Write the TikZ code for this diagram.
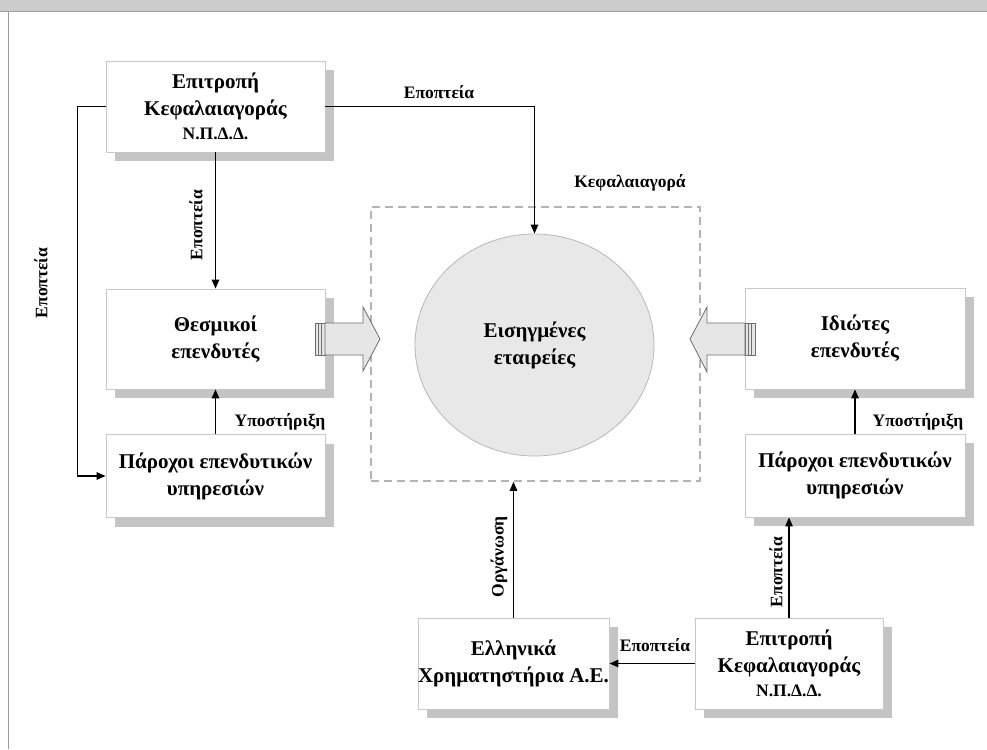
\documentclass[tikz,border=0pt]{standalone}
\usepackage{fontspec}
\setmainfont{Liberation Serif}
\usetikzlibrary{arrows.meta,shapes.geometric,shadows}
\definecolor{shadowgray}{HTML}{C4C4C4}
\definecolor{boxline}{HTML}{C8C8C8}
\definecolor{bargray}{HTML}{CCCCCC}
\definecolor{barline}{HTML}{9E9E9E}
\definecolor{ellfill}{HTML}{E8E8E8}
\definecolor{ellline}{HTML}{B8B8B8}
\definecolor{dashgray}{HTML}{B4B4B4}
\definecolor{arrfill}{HTML}{E6E6E6}
\definecolor{arrline}{HTML}{6E6E6E}
\tikzset{
  entity/.style={draw=boxline, line width=0.8pt, fill=white, align=center,
    font=\fontsize{21}{27}\selectfont\bfseries, inner sep=0pt,
    drop shadow={shadow xshift=9pt, shadow yshift=-9pt, fill=shadowgray, opacity=1}},
  lbl/.style={font=\fontsize{17.5}{20}\selectfont\bfseries, inner sep=0pt},
  conn/.style={line width=1.3pt, -{Triangle[length=9pt,width=7.5pt]}},
  blockarrow/.style={draw=arrline, fill=arrfill, line width=0.8pt},
}
\newcommand{\npdd}{{\fontsize{17.5}{20}\selectfont Ν.Π.Δ.Δ.}}
\begin{document}
\begin{tikzpicture}[x=1pt,y=-1pt]
\useasboundingbox (0,0) rectangle (987,749);
\fill[white] (0,0) rectangle (987,749);
% frame
\fill[bargray] (0,0) rectangle (987,11);
\fill[barline] (0,11) rectangle (987,12.5);
\draw[barline, line width=1.5pt] (8.5,12) -- (8.5,749);

% market area and listed companies
\node[draw=dashgray, line width=1.6pt, dash pattern=on 8pt off 5pt,
  minimum width=329pt, minimum height=274pt, inner sep=0pt] (market) at (535.5,344) {};
\node[ellipse, draw=ellline, fill=ellfill, line width=0.8pt, minimum width=239pt,
  minimum height=222pt, inner sep=0pt, align=center,
  font=\fontsize{21}{27}\selectfont\bfseries] (ell) at (534.5,345) {Εισηγμένες\\εταιρείες};

% boxes
\node[entity, minimum width=219pt, minimum height=91pt] (TL) at (215.5,106.5)
  {Επιτροπή\\Κεφαλαιαγοράς\\[-3pt]\npdd};
\node[entity, minimum width=219pt, minimum height=100pt] (TH) at (215.5,339)
  {Θεσμικοί\\επενδυτές};
\node[entity, minimum width=219pt, minimum height=83pt] (LP) at (215.5,476)
  {Πάροχοι επενδυτικών\\υπηρεσιών};
\node[entity, minimum width=220pt, minimum height=101pt] (ID) at (855,338.5)
  {Ιδιώτες\\επενδυτές};
\node[entity, minimum width=220pt, minimum height=83pt] (RP) at (855,475.5)
  {Πάροχοι επενδυτικών\\υπηρεσιών};
\node[entity, minimum width=189pt, minimum height=91pt] (EX) at (513.5,663.5)
  {Ελληνικά\\Χρηματηστήρια Α.Ε.};
\node[entity, minimum width=188pt, minimum height=91pt] (BR) at (789,663.5)
  {Επιτροπή\\Κεφαλαιαγοράς\\[-3pt]\npdd};

% block arrows
\draw[blockarrow] (315,323) rectangle (318,355);
\draw[blockarrow] (318,323) rectangle (321,355);
\draw[blockarrow] (321,323) rectangle (325,355);
\draw[blockarrow] (325,323) -- (363,323) -- (363,307) -- (380,339) -- (363,371)
  -- (363,355) -- (325,355) -- cycle;
\draw[blockarrow] (748,323) rectangle (745,355);
\draw[blockarrow] (751,323) rectangle (748,355);
\draw[blockarrow] (755,323) rectangle (751,355);
\draw[blockarrow] (745,323) -- (707,323) -- (707,307) -- (690,339) -- (707,372)
  -- (707,355) -- (745,355) -- cycle;

% connectors
\draw[conn] (TL.east) -- (TL.east -| ell.north) -- (ell.north);
\draw[conn] (TL.south) -- (TH.north);
\draw[conn] (TL.west) -- ++(-28,0) |- (LP.west);
\draw[conn] (LP.north) -- (TH.south);
\draw[conn] (RP.north) -- (ID.south);
\draw[conn] (BR.north) -- (BR.north |- RP.south);
\draw[conn] (BR.west) -- (EX.east);
\draw[conn] (EX.north) -- (EX.north |- market.south);

% labels
\node[lbl] (l1) at (439,92) {Εποπτεία};
\node[lbl] (l2) at (630,183) {Κεφαλαιαγορά};
\node[lbl, rotate=90] (l3) at (196,225) {Εποπτεία};
\node[lbl, rotate=90] (l4) at (41,283) {Εποπτεία};
\node[lbl] (l5) at (280,422) {Υποστήριξη};
\node[lbl] (l6) at (918,422) {Υποστήριξη};
\node[lbl, rotate=90] (l7) at (776,572) {Εποπτεία};
\node[lbl] (l8) at (655,645) {Εποπτεία};
\node[lbl, rotate=90] (l9) at (499,557) {Οργάνωση};
\end{tikzpicture}
\end{document}
